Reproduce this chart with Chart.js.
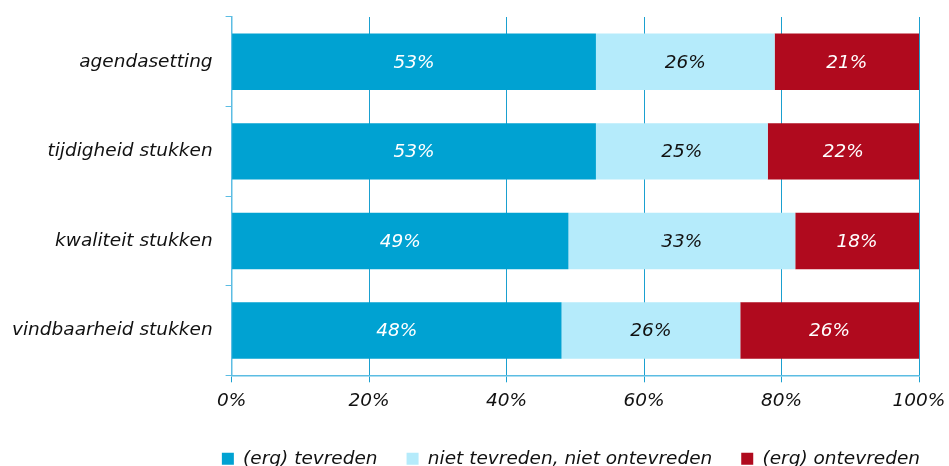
<!DOCTYPE html>
<html>
<head>
<meta charset="utf-8">
<script src="https://cdn.jsdelivr.net/npm/chart.js@4.4.1/dist/chart.umd.min.js"></script>
<style>
  html, body { margin: 0; padding: 0; background: #fff; }
  #wrap { width: 949px; height: 466px; }
</style>
</head>
<body>
<div id="wrap"><canvas id="barChart" width="949" height="466"></canvas></div>
<script>
// data
var categories = ['agendasetting', 'tijdigheid stukken', 'kwaliteit stukken', 'vindbaarheid stukken'];
var seriesNames = ['(erg) tevreden', 'niet tevreden, niet ontevreden', '(erg) ontevreden'];
var tevreden = [53, 53, 49, 48];
var neutraal = [26, 25, 33, 26];
var ontevreden = [21, 22, 18, 26];
var xTicks = [0, 20, 40, 60, 80, 100];

var colors = ['#00a2d2', '#b5ebfb', '#b00a1e'];
var labelColors = ['#ffffff', '#111111', '#ffffff'];
var fontFamily = '"DejaVu Sans", Verdana, sans-serif';
var fontSize = 18.5;

// draws the percentage inside each bar segment
var barLabels = {
    id: 'barLabels',
    afterDatasetsDraw: function (chart) {
        var ctx = chart.ctx;
        ctx.save();
        ctx.font = 'italic ' + fontSize + 'px ' + fontFamily;
        ctx.textAlign = 'center';
        ctx.textBaseline = 'middle';
        chart.data.datasets.forEach(function (ds, i) {
            var meta = chart.getDatasetMeta(i);
            meta.data.forEach(function (bar, j) {
                ctx.fillStyle = labelColors[i];
                ctx.fillText(ds.data[j] + '%', (bar.x + bar.base) / 2, bar.y + 1);
            });
        });
        ctx.restore();
    }
};

var data = {
    labels: categories,
    datasets: [
        { label: seriesNames[0], data: tevreden, backgroundColor: colors[0] },
        { label: seriesNames[1], data: neutraal, backgroundColor: colors[1] },
        { label: seriesNames[2], data: ontevreden, backgroundColor: colors[2] }
    ]
};

var options = {
    indexAxis: 'y',
    responsive: false,
    animation: false,
    layout: { padding: { top: 17, left: -1, right: 0, bottom: -12 } },
    datasets: { bar: { categoryPercentage: 1, barPercentage: 0.63 } },
    scales: {
        x: {
            stacked: true,
            min: 0,
            max: 100,
            afterBuildTicks: function (axis) {
                axis.ticks = xTicks.map(function (v) { return { value: v }; });
            },
            border: { color: '#5cbde3', width: 1.5 },
            grid: { color: '#1aa0d0', lineWidth: 1, tickLength: 7, drawTicks: true },
            ticks: {
                color: '#111',
                font: { family: fontFamily, size: fontSize, style: 'italic' },
                padding: 8,
                maxRotation: 0,
                callback: function (v) { return v + '%'; }
            },
            afterFit: function (axis) {
                axis.paddingLeft = 0;
                axis.paddingRight = 30;
            }
        },
        y: {
            stacked: true,
            border: { color: '#5cbde3', width: 1.5 },
            grid: { offset: true, drawOnChartArea: false, color: '#5cbde3', tickLength: 6 },
            ticks: {
                color: '#111',
                font: { family: fontFamily, size: fontSize, style: 'italic' },
                padding: 13
            },
            afterFit: function (axis) {
                axis.paddingTop = 0;
                axis.paddingBottom = 0;
            }
        }
    },
    plugins: {
        legend: {
            position: 'bottom',
            align: 'end',
            labels: {
                boxWidth: 12,
                boxHeight: 12,
                padding: 29,
                color: '#111',
                font: { family: fontFamily, size: fontSize, style: 'italic' }
            }
        },
        tooltip: { enabled: false }
    }
};

new Chart(document.getElementById('barChart').getContext('2d'), {
    type: 'bar',
    data: data,
    options: options,
    plugins: [barLabels]
});
</script>
</body>
</html>
